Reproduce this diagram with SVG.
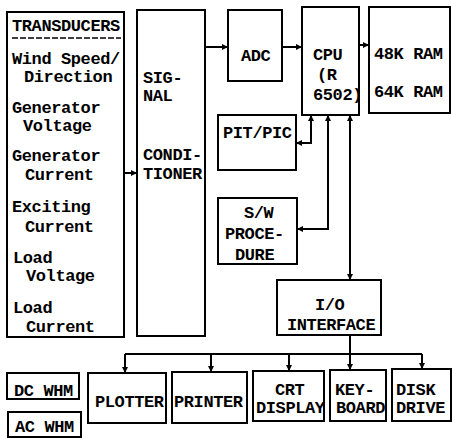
<svg xmlns="http://www.w3.org/2000/svg" width="452" height="438" viewBox="0 0 452 438">
<defs>
<marker id="ah" markerWidth="6" markerHeight="6" refX="5" refY="3" orient="auto" markerUnits="userSpaceOnUse">
<path d="M0,0 L6,3 L0,6 z" fill="#000"/>
</marker>
<marker id="as" markerWidth="6" markerHeight="6" refX="1" refY="3" orient="auto" markerUnits="userSpaceOnUse">
<path d="M6,0 L0,3 L6,6 z" fill="#000"/>
</marker>
<style>
rect{fill:#fff;stroke:#000;stroke-width:2}
text{font-family:"Liberation Mono","Courier New",monospace;font-weight:bold;font-size:17px;letter-spacing:-0.4px;fill:#000}
.c path,.c line{fill:none;stroke:#000;stroke-width:2}
</style>
</defs>
<rect width="452" height="438" style="fill:#fff;stroke:none"/>
<g class="c" id="connectors">
<line x1="124" y1="173" x2="136" y2="173" marker-end="url(#ah)"/>
<line x1="205" y1="47" x2="227" y2="47" marker-end="url(#ah)"/>
<line x1="282" y1="47" x2="301" y2="47" marker-end="url(#ah)"/>
<line x1="359" y1="45" x2="368" y2="45" marker-end="url(#ah)"/>
<path d="M311,116 V143 H297" marker-start="url(#as)" marker-end="url(#ah)"/>
<path d="M328,116 V229 H298" marker-start="url(#as)" marker-end="url(#ah)"/>
<line x1="350" y1="116" x2="350" y2="279" marker-start="url(#as)" marker-end="url(#ah)"/>
<line x1="350" y1="335" x2="350" y2="354"/>
<line x1="125" y1="354" x2="422" y2="354"/>
<line x1="125" y1="354" x2="125" y2="372" marker-end="url(#ah)"/>
<line x1="211" y1="354" x2="211" y2="371" marker-end="url(#ah)"/>
<line x1="289" y1="354" x2="289" y2="370" marker-end="url(#ah)"/>
<line x1="350" y1="354" x2="350" y2="369" marker-end="url(#ah)"/>
<line x1="422" y1="354" x2="422" y2="368" marker-end="url(#ah)"/>
</g>
<g id="transducers">
<rect x="7" y="12" width="117" height="325"/>
<text x="12" y="31">TRANSDUCERS</text>
<line x1="12" y1="38" x2="121" y2="38" stroke="#000" stroke-width="1.5" stroke-dasharray="6,2"/>
<text x="12" y="64">Wind Speed/</text>
<text x="24" y="82">Direction</text>
<text x="12" y="113">Generator</text>
<text x="23" y="131">Voltage</text>
<text x="12" y="161">Generator</text>
<text x="25" y="180">Current</text>
<text x="12" y="212">Exciting</text>
<text x="25" y="232">Current</text>
<text x="13" y="263">Load</text>
<text x="26" y="281">Voltage</text>
<text x="13" y="313">Load</text>
<text x="26" y="332">Current</text>
</g>
<g id="signal-conditioner">
<rect x="137" y="10" width="68" height="326"/>
<text x="143" y="83">SIG-</text>
<text x="143" y="101">NAL</text>
<text x="143" y="160">CONDI-</text>
<text x="143" y="179">TIONER</text>
</g>
<g id="adc">
<rect x="228" y="10" width="54" height="71"/>
<text x="241" y="61">ADC</text>
</g>
<g id="cpu">
<rect x="302" y="7" width="57" height="108"/>
<text x="313" y="60">CPU</text>
<text x="317" y="80">(R</text>
<text x="313" y="100">6502)</text>
</g>
<g id="ram">
<rect x="369" y="7" width="81" height="106"/>
<text x="374" y="59">48K RAM</text>
<text x="374" y="97">64K RAM</text>
</g>
<g id="pit-pic">
<rect x="218" y="115" width="78" height="55"/>
<text x="223" y="138">PIT/PIC</text>
</g>
<g id="sw-procedure">
<rect x="218" y="198" width="79" height="66"/>
<text x="244" y="218">S/W</text>
<text x="225" y="239">PROCE-</text>
<text x="235" y="260">DURE</text>
</g>
<g id="io-interface">
<rect x="277" y="280" width="104" height="55"/>
<text x="315" y="310">I/O</text>
<text x="287" y="330">INTERFACE</text>
</g>
<g id="plotter">
<rect x="88" y="373" width="78" height="50"/>
<text x="95" y="407">PLOTTER</text>
</g>
<g id="printer">
<rect x="172" y="372" width="75" height="51"/>
<text x="174" y="407">PRINTER</text>
</g>
<g id="crt-display">
<rect x="253" y="371" width="71" height="50"/>
<text x="275" y="395">CRT</text>
<text x="256" y="413">DISPLAY</text>
</g>
<g id="keyboard">
<rect x="330" y="370" width="56" height="51"/>
<text x="335" y="395">KEY-</text>
<text x="336" y="413">BOARD</text>
</g>
<g id="disk-drive">
<rect x="392" y="369" width="59" height="52"/>
<text x="396" y="395">DISK</text>
<text x="396" y="413">DRIVE</text>
</g>
<g id="dc-whm">
<rect x="7" y="373" width="72" height="26"/>
<text x="14" y="396">DC WHM</text>
</g>
<g id="ac-whm">
<rect x="8" y="412" width="73" height="25"/>
<text x="15" y="432">AC WHM</text>
</g>
</svg>
